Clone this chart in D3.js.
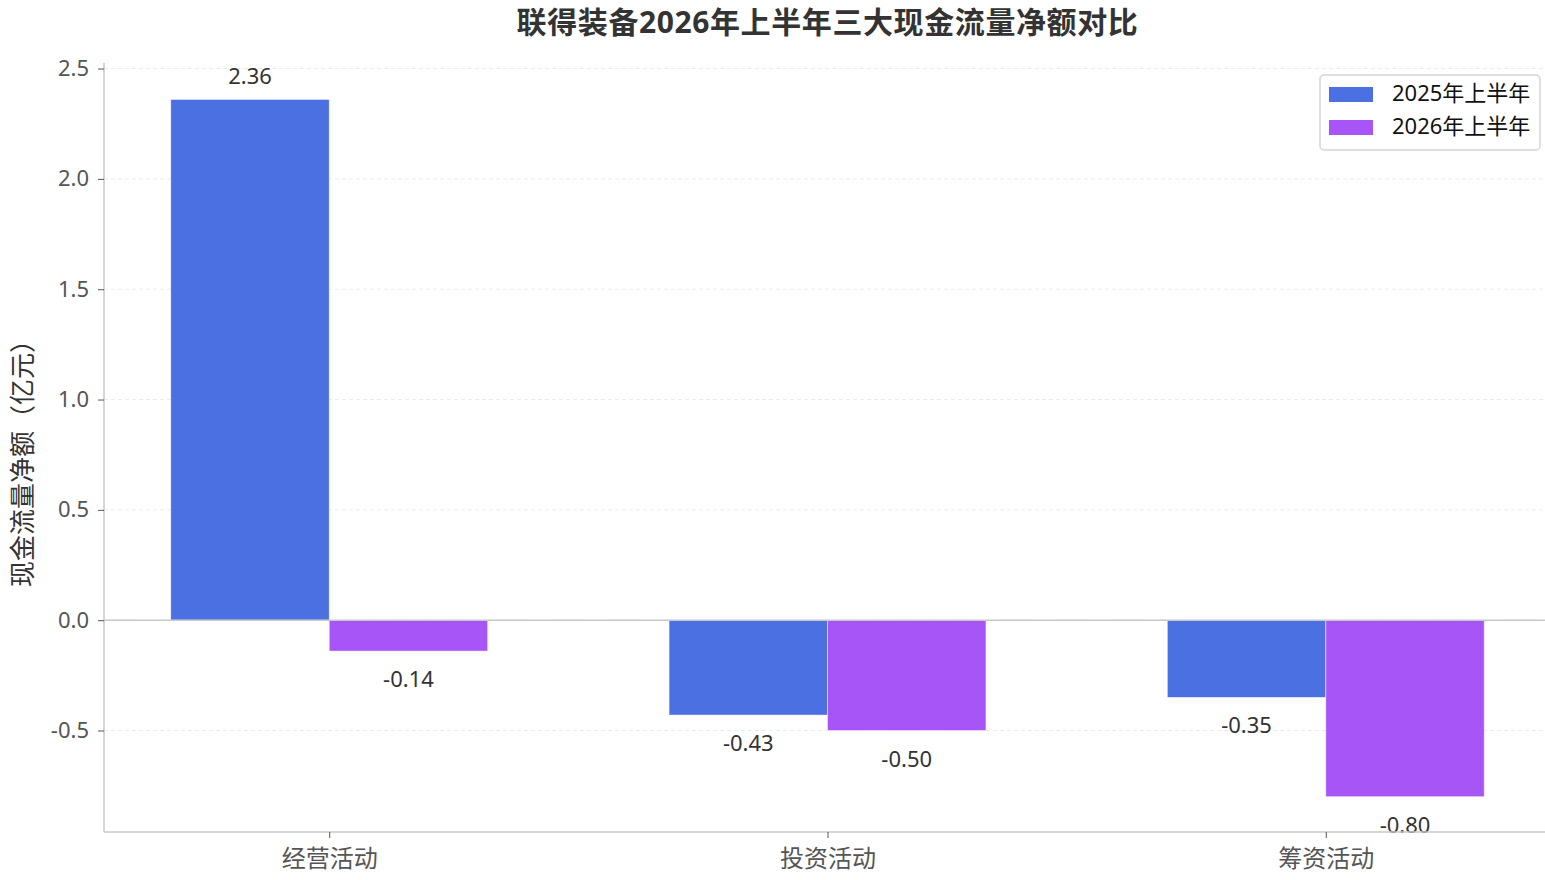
<!DOCTYPE html>
<html>
<head>
<meta charset="utf-8">
<script src="https://cdn.jsdelivr.net/npm/d3@7"></script>
<style>
  body { margin: 0; background: #fff; }
  svg { display: block; font-family: "Noto Sans", "Noto Sans CJK SC", sans-serif; }
</style>
</head>
<body>
<div id="chart"></div>
<script>
// data
var categories = ['经营活动', '投资活动', '筹资活动'];
var seriesNames = ['2025年上半年', '2026年上半年'];
var values2025 = [2.36, -0.43, -0.35];
var values2026 = [-0.14, -0.50, -0.80];
var yTicks = [-0.5, 0.0, 0.5, 1.0, 1.5, 2.0, 2.5];

var colors = ['#4a70e1', '#a855f7'];
var fontStack = '"Noto Sans", "Noto Sans CJK SC", sans-serif';

var W = 1545, H = 880;
var margin = { left: 104, right: 1551, top: 63, bottom: 832 };
var barW = 0.318;

var svg = d3.select('#chart').append('svg')
  .attr('width', W)
  .attr('height', H);

// x in category units, like matplotlib with 5% margins
var x = d3.scaleLinear()
  .domain([-barW - 0.134, categories.length - 1 + barW + 0.134])
  .range([margin.left, margin.right]);

var yMin = d3.min(values2026.concat(values2025)) * 1.2;
var yMax = d3.max(values2025.concat(values2026)) * 1.07;
var y = d3.scaleLinear()
  .domain([yMin, yMax])
  .range([margin.bottom, margin.top]);

// grid
svg.append('g')
  .selectAll('line')
  .data(yTicks)
  .enter()
  .append('line')
  .attr('x1', margin.left)
  .attr('x2', margin.right)
  .attr('y1', d => y(d))
  .attr('y2', d => y(d))
  .attr('stroke', '#e6e6e6')
  .attr('stroke-width', 0.8)
  .attr('stroke-dasharray', '4,3');

// bars
var series = [values2025, values2026];
series.forEach(function(vals, s) {
  var g = svg.append('g').attr('class', 'series-' + s);
  g.selectAll('rect')
    .data(vals)
    .enter()
    .append('rect')
    .attr('x', (d, i) => s == 0 ? x(i - barW) : x(i))
    .attr('width', x(barW) - x(0))
    .attr('y', d => y(Math.max(0, d)))
    .attr('height', d => Math.abs(y(d) - y(0)))
    .attr('fill', colors[s])
    .attr('stroke', '#ffffff')
    .attr('stroke-opacity', 0.6)
    .attr('stroke-width', 0.8);

  g.selectAll('text')
    .data(vals)
    .enter()
    .append('text')
    .attr('x', (d, i) => x(i + (s == 0 ? -barW / 2 : barW / 2)))
    .attr('y', d => d >= 0 ? y(d) - 15 : y(d) + 36)
    .attr('text-anchor', 'middle')
    .attr('font-size', 22)
    .attr('fill', '#333')
    .text(d => d.toFixed(2));
});

// zero line
svg.append('line')
  .attr('x1', margin.left)
  .attr('x2', margin.right)
  .attr('y1', y(0))
  .attr('y2', y(0))
  .attr('stroke', '#c8c8c8')
  .attr('stroke-width', 1.5);

// axes
var yAxis = svg.append('g')
  .attr('transform', 'translate(' + margin.left + ',0)')
  .call(d3.axisLeft(y).tickValues(yTicks).tickFormat(d => d.toFixed(1)).tickSize(6).tickPadding(9));
yAxis.select('.domain').attr('stroke', '#c8c8c8').attr('stroke-width', 1.5).attr('d', 'M0,' + margin.top + 'V' + margin.bottom);
yAxis.selectAll('.tick line').attr('stroke', '#555');
yAxis.selectAll('.tick text').attr('font-size', 22).attr('fill', '#555')
  .style('font-family', fontStack);

var xAxis = svg.append('g')
  .attr('transform', 'translate(0,' + margin.bottom + ')')
  .call(d3.axisBottom(x).tickValues(d3.range(categories.length)).tickFormat(i => categories[i]).tickSize(6).tickPadding(12));
xAxis.select('.domain').attr('stroke', '#c8c8c8').attr('stroke-width', 1.5).attr('d', 'M' + margin.left + ',0H' + margin.right);
xAxis.selectAll('.tick line').attr('stroke', '#555');
xAxis.selectAll('.tick text').attr('font-size', 24).attr('fill', '#555')
  .style('font-family', fontStack);

// y label
svg.append('text')
  .attr('transform', 'translate(32,' + 457 + ') rotate(-90)')
  .attr('text-anchor', 'middle')
  .attr('font-size', 26)
  .attr('fill', '#333')
  .text('现金流量净额（亿元）');

// title
svg.append('text')
  .attr('x', (margin.left + margin.right) / 2)
  .attr('y', 33)
  .attr('text-anchor', 'middle')
  .attr('font-size', 30)
  .attr('letter-spacing', 0.6)
  .attr('font-weight', 'bold')
  .attr('fill', '#333')
  .text('联得装备2026年上半年三大现金流量净额对比');

// legend
var legend = svg.append('g').attr('transform', 'translate(1320,75)');
legend.append('rect')
  .attr('width', 220)
  .attr('height', 75)
  .attr('rx', 4)
  .attr('fill', '#fff')
  .attr('stroke', '#d5d5d5')
  .attr('stroke-width', 1.5);
seriesNames.forEach(function(name, i) {
  legend.append('rect')
    .attr('x', 9)
    .attr('y', 12 + i * 33)
    .attr('width', 44)
    .attr('height', 15)
    .attr('fill', colors[i]);
  legend.append('text')
    .attr('x', 72)
    .attr('y', 26 + i * 33)
    .attr('font-size', 22)
    .attr('fill', '#111')
    .text(name);
});
</script>
</body>
</html>
